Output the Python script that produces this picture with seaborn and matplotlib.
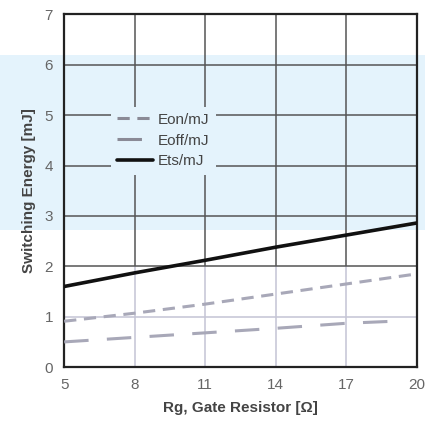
import matplotlib
matplotlib.use("Agg")
import matplotlib.pyplot as plt
import seaborn as sns
import pandas as pd
from matplotlib.patches import Rectangle

# data
rg = [5, 8, 11, 14, 17, 20]
e_on = [0.91, 1.07, 1.25, 1.45, 1.65, 1.85]
e_ts = [1.60, 1.87, 2.12, 2.38, 2.62, 2.86]
rg_off = [5, 8, 11, 14, 17, 19]
e_off = [0.50, 0.59, 0.68, 0.77, 0.87, 0.91]
x_ticks = [5, 8, 11, 14, 17, 20]
y_ticks = [0, 1, 2, 3, 4, 5, 6, 7]

df = pd.DataFrame({"rg": rg, "Eon/mJ": e_on, "Ets/mJ": e_ts})
df_off = pd.DataFrame({"rg": rg_off, "Eoff/mJ": e_off})

sns.set_style("white")
plt.rcParams["font.family"] = "sans-serif"
plt.rcParams["font.sans-serif"] = ["Liberation Sans"]

band = "#e4f3fc"
fig = plt.figure(figsize=(4.25, 4.21), dpi=100)
bg = Rectangle((0, 0.454), 1, 0.416, transform=fig.transFigure,
               facecolor=band, edgecolor="none", zorder=0)
fig.patches.append(bg)
ax = fig.add_axes([0.151, 0.128, 0.83, 0.838])
ax.set_zorder(2)
ax.set_facecolor("none")

# grid: dark in the upper part, light in the lower part
for xv in x_ticks[1:-1]:
    ax.vlines(xv, 2, 7, color="#555555", lw=1.1, zorder=1)
    ax.vlines(xv, 0, 2, color="#c4c4d4", lw=1.1, zorder=1)
for yv in y_ticks[1:-1]:
    c = "#555555" if yv >= 2 else "#c4c4d4"
    ax.hlines(yv, 5, 20, color=c, lw=1.1, zorder=1)

sns.lineplot(data=df, x="rg", y="Eon/mJ", ax=ax, color="#a8a8b8", lw=2.2,
             linestyle=(0, (4, 2.5)), label="Eon/mJ", zorder=3)
sns.lineplot(data=df_off, x="rg", y="Eoff/mJ", ax=ax, color="#a8a8b8", lw=2.2,
             linestyle=(0, (8, 6)), label="Eoff/mJ", zorder=3)
sns.lineplot(data=df, x="rg", y="Ets/mJ", ax=ax, color="#111111", lw=2.6,
             label="Ets/mJ", zorder=3)

ax.set_xlim(5, 20)
ax.set_ylim(0, 7)
ax.set_xticks(x_ticks)
ax.set_yticks(y_ticks)
ax.tick_params(axis="both", labelsize=11, labelcolor="#666666", length=0, pad=8)
for s in ax.spines.values():
    s.set_color("#222222")
    s.set_linewidth(1.6)

ax.set_xlabel("Rg, Gate Resistor [Ω]", fontsize=11, fontweight="bold", color="#444444", labelpad=6)
ax.set_ylabel("Switching Energy [mJ]", fontsize=11, fontweight="bold", color="#444444", labelpad=6)

leg = ax.legend(loc="upper left", bbox_to_anchor=(0.11, 0.76), frameon=True,
                facecolor=band, edgecolor="none", framealpha=1, fontsize=11,
                handlelength=2.4, handletextpad=0.3, borderpad=0.4, labelspacing=0.45)
for t in leg.get_texts():
    t.set_color("#444444")
for h in leg.get_lines()[:2]:
    h.set_color("#8a8a96")

fig.savefig("out.png", dpi=100)
